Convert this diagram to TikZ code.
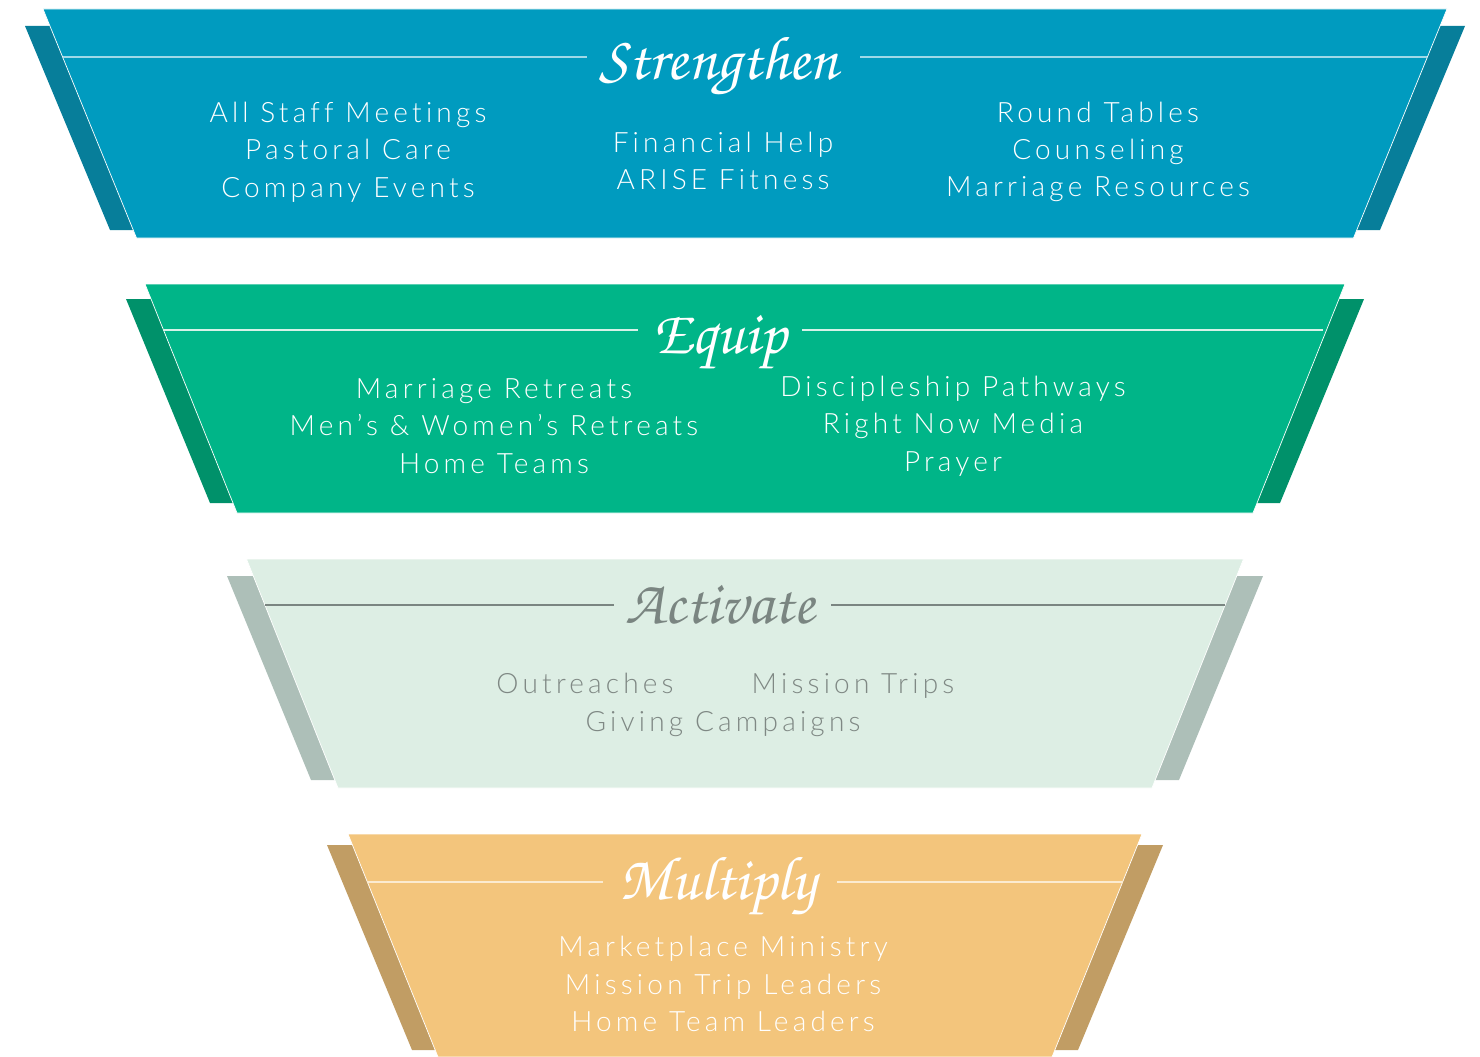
\documentclass[tikz,border=0pt]{standalone}
\usepackage{fontspec}
\setmainfont{Lato Light}[LetterSpace=15, Ligatures=NoCommon]
\newcommand{\scriptttl}{\usefont{T1}{pzc}{mb}{it}}
\definecolor{bOneMain}{HTML}{009BBF}
\definecolor{bOneBack}{HTML}{077E9A}
\definecolor{bOneLine}{HTML}{9ED9E8}
\definecolor{bTwoMain}{HTML}{00B588}
\definecolor{bTwoBack}{HTML}{00916A}
\definecolor{bTwoLine}{HTML}{D5F2E8}
\definecolor{bThrMain}{HTML}{DDEEE4}
\definecolor{bThrBack}{HTML}{ADBFB8}
\definecolor{bThrLine}{HTML}{7A8581}
\definecolor{bThrText}{HTML}{7F8884}
\definecolor{bFouMain}{HTML}{F3C57C}
\definecolor{bFouBack}{HTML}{C19D64}
\definecolor{bFouLine}{HTML}{FBEBD0}
\tikzset{
  x=1pt, y=-1pt,
  mainband/.style={draw=white, line width=0.7pt},
  rule/.style={line width=1.1pt},
  item/.style={font=\fontsize{28}{37.3}\selectfont, align=center, inner sep=0pt, anchor=center},
  oneitem/.style={font=\fontsize{28}{37.3}\selectfont, inner sep=0pt, anchor=base},
  title/.style={font=\fontsize{62}{62}\scriptttl, inner sep=0pt, anchor=base}
}
\begin{document}
\begin{tikzpicture}
\useasboundingbox (0,0) rectangle (1480,1057);
% ---------- Band 1 ----------
\fill[bOneBack] (25,26) -- (1465,26) -- (1380,230) -- (110,230) -- cycle;
\filldraw[mainband, fill=bOneMain] (43,9) -- (1447,9) -- (1353.5,238) -- (136.5,238) -- cycle;
\coordinate (l1a) at (63,57); \coordinate (l1b) at (587,57);
\coordinate (l1c) at (860,57); \coordinate (l1d) at (1427,57);
\draw[rule, bOneLine] (l1a) -- (l1b) (l1c) -- (l1d);
\node[title, text=white] (t1) at (719,80) {Strengthen};
\node[item, text=white] (s1) at (348,152) {All Staff Meetings\\Pastoral Care\\Company Events};
\node[item, text=white] (s2) at (723,161) {Financial Help\\ARISE Fitness};
\node[item, text=white] (s3) at (1098,152) {Round Tables\\Counseling\\Marriage Resources};
% ---------- Band 2 ----------
\fill[bTwoBack] (126,299) -- (1364,299) -- (1280,503) -- (210,503) -- cycle;
\filldraw[mainband, fill=bTwoMain] (145,284) -- (1345,284) -- (1253,513) -- (237,513) -- cycle;
\coordinate (l2a) at (163,330); \coordinate (l2b) at (638,330);
\coordinate (l2c) at (802,330); \coordinate (l2d) at (1323,330);
\draw[rule, bTwoLine] (l2a) -- (l2b) (l2c) -- (l2d);
\node[title, text=white] (t2) at (720,353) {Equip};
\node[item, text=white] (e1) at (494,426) {Marriage Retreats\\Men’s \& Women’s Retreats\\Home Teams};
\node[item, text=white] (e2) at (953,426) {Discipleship Pathways\\Right Now Media\\Prayer};
% ---------- Band 3 ----------
\fill[bThrBack] (227,576) -- (1263,576) -- (1179,780) -- (311,780) -- cycle;
\filldraw[mainband, fill=bThrMain] (246.5,559) -- (1243.5,559) -- (1152,788) -- (338,788) -- cycle;
\coordinate (l3a) at (265,605); \coordinate (l3b) at (614,605);
\coordinate (l3c) at (831,605); \coordinate (l3d) at (1225,605);
\draw[rule, bThrLine] (l3a) -- (l3b) (l3c) -- (l3d);
\node[title, text=bThrLine] (t3) at (720,623) {Activate};
\node[oneitem, text=bThrText] (a1) at (585,693) {Outreaches};
\node[oneitem, text=bThrText] (a2) at (853,693) {Mission Trips};
\node[oneitem, text=bThrText] (a3) at (723,731) {Giving Campaigns};
% ---------- Band 4 ----------
\fill[bFouBack] (327,845) -- (1163,845) -- (1078,1050) -- (412,1050) -- cycle;
\filldraw[mainband, fill=bFouMain] (348,834) -- (1142,834) -- (1052,1057) -- (438,1057) -- cycle;
\coordinate (l4a) at (367,882); \coordinate (l4b) at (603,882);
\coordinate (l4c) at (837,882); \coordinate (l4d) at (1123,882);
\draw[rule, bFouLine] (l4a) -- (l4b) (l4c) -- (l4d);
\node[title, text=white] (t4) at (718,899) {Multiply};
\node[item, text=white] (m1) at (723,984) {Marketplace Ministry\\Mission Trip Leaders\\Home Team Leaders};
\end{tikzpicture}
\end{document}
